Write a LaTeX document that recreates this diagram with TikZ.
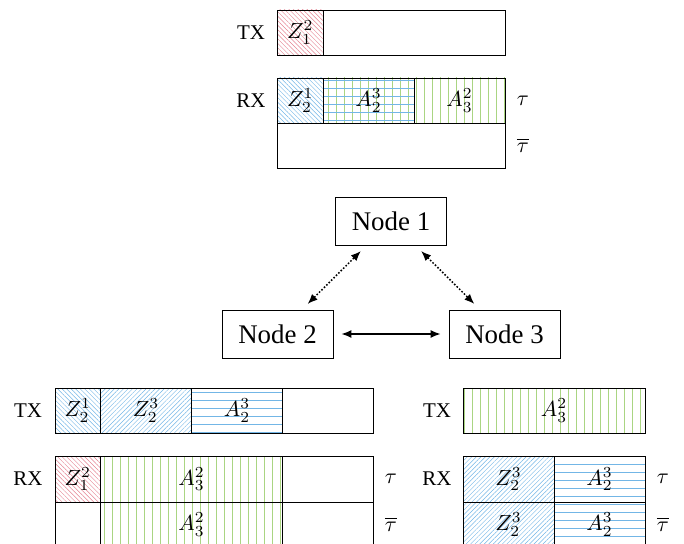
\RequirePackage{fix-cm}
\documentclass[tikz,border=0pt]{standalone}
\usepackage{fontspec}
\newfontfamily\nodefont{Liberation Serif}
\usetikzlibrary{patterns.meta,arrows.meta}
\definecolor{hred}{RGB}{228,130,145}
\definecolor{hblue}{RGB}{115,182,230}
\definecolor{hgreen}{RGB}{170,213,130}
\newcommand\cl[1]{\scalebox{2.2}{#1}}
\begin{document}
\begin{tikzpicture}[x=1bp,y=-1bp,
  cell/.style={draw=black,line width=0.8bp},
  hatchR/.style={pattern={Lines[angle=-45,distance=3.2bp,line width=0.45bp]},pattern color=hred},
  hatchB/.style={pattern={Lines[angle=-45,distance=3.2bp,line width=0.45bp]},pattern color=hblue},
  hatchBne/.style={pattern={Lines[angle=45,distance=3.2bp,line width=0.45bp]},pattern color=hblue},
  horizB/.style={pattern={Lines[angle=0,distance=8bp,line width=0.6bp]},pattern color=hblue},
  vertG/.style={pattern={Lines[angle=90,distance=8bp,line width=0.6bp]},pattern color=hgreen},
  lab/.style={inner sep=0pt},
  side/.style={inner sep=0pt,font=\nodefont\fontsize{21}{24}\selectfont},
  nd/.style={draw,line width=0.8bp,minimum width=111bp,minimum height=48bp,inner sep=0pt,
     font=\nodefont\fontsize{27}{30}\selectfont},
  tip/.style={{Latex[length=10bp,width=8bp]}-{Latex[length=10bp,width=8bp]}},
  link/.style={tip,line width=1.5bp,shorten <=8bp,shorten >=8bp},
  dlink/.style={link,dash pattern=on 1.6bp off 1.8bp}
]
\useasboundingbox (0,0) rectangle (684,544);

% ---------- top group (Node 1) ----------
\draw[cell,hatchR] (277.5,10) rectangle (323,55);
\draw[cell] (323,10) rectangle (505,55);
\node[side] (t1) at (251,32.5) {TX};
\node[lab] (tz12) at (300.25,32.5) {\cl{$Z_1^2$}};

\draw[cell,hatchB] (277.5,78) rectangle (323,123);
\fill[vertG] (323,78) rectangle (414,123);
\draw[cell,horizB] (323,78) rectangle (414,123);
\draw[cell,vertG] (414,78) rectangle (505,123);
\draw[cell] (277.5,123) rectangle (505,168);
\node[side] (r1) at (251,100.5) {RX};
\node[lab] (rz21) at (300.25,100.5) {\cl{$Z_2^1$}};
\node[lab] (ra23) at (368.5,100.5) {\cl{$A_2^3$}};
\node[lab] (ra32) at (459.5,100.5) {\cl{$A_3^2$}};
\node[lab] (tau1) at (523,100.5) {\cl{$\tau$}};
\node[lab] (taub1) at (523,145.5) {\cl{$\overline{\tau}$}};

% ---------- nodes ----------
\node[nd] (n1) at (391,221) {Node 1};
\node[nd] (n2) at (277.5,334) {Node 2};
\node[nd] (n3) at (504.5,334) {Node 3};
\draw[dlink] (n2) -- (n1);
\draw[dlink] (n1) -- (n3);
\draw[link] (n2) -- (n3);

% ---------- bottom left (Node 2) ----------
\draw[cell,hatchB] (55,388) rectangle (100.5,433);
\draw[cell,hatchBne] (100.5,388) rectangle (191.5,433);
\draw[cell,horizB] (191.5,388) rectangle (282.5,433);
\draw[cell] (282.5,388) rectangle (373.5,433);
\node[side] (t2) at (28,410.5) {TX};
\node[lab] (tz21b) at (77.75,410.5) {\cl{$Z_2^1$}};
\node[lab] (tz23b) at (146,410.5) {\cl{$Z_2^3$}};
\node[lab] (ta23b) at (237,410.5) {\cl{$A_2^3$}};

\draw[cell,hatchR] (55,456) rectangle (100.5,502);
\draw[cell,vertG] (100.5,456) rectangle (282.5,502);
\draw[cell] (282.5,456) rectangle (373.5,502);
\draw[cell] (55,502) rectangle (100.5,548);
\draw[cell,vertG] (100.5,502) rectangle (282.5,548);
\draw[cell] (282.5,502) rectangle (373.5,548);
\node[side] (r2) at (28,479) {RX};
\node[lab] (rz12b) at (77.75,479) {\cl{$Z_1^2$}};
\node[lab] (ra32b) at (191.5,479) {\cl{$A_3^2$}};
\node[lab] (ra32c) at (191.5,524.5) {\cl{$A_3^2$}};
\node[lab] (tau2) at (391,479) {\cl{$\tau$}};
\node[lab] (taub2) at (391,524.5) {\cl{$\overline{\tau}$}};

% ---------- bottom right (Node 3) ----------
\draw[cell,vertG] (463,388) rectangle (645,433);
\node[side] (t3) at (437,410.5) {TX};
\node[lab] (ta32r) at (554,410.5) {\cl{$A_3^2$}};

\draw[cell,hatchBne] (463,456) rectangle (554,502);
\draw[cell,horizB] (554,456) rectangle (645,502);
\draw[cell,hatchBne] (463,502) rectangle (554,548);
\draw[cell,horizB] (554,502) rectangle (645,548);
\node[side] (r3) at (437,479) {RX};
\node[lab] (rz23r) at (508.5,479) {\cl{$Z_2^3$}};
\node[lab] (ra23r) at (599.5,479) {\cl{$A_2^3$}};
\node[lab] (rz23s) at (508.5,524.5) {\cl{$Z_2^3$}};
\node[lab] (ra23s) at (599.5,524.5) {\cl{$A_2^3$}};
\node[lab] (tau3) at (663,479) {\cl{$\tau$}};
\node[lab] (taub3) at (663,524.5) {\cl{$\overline{\tau}$}};
\end{tikzpicture}
\end{document}
